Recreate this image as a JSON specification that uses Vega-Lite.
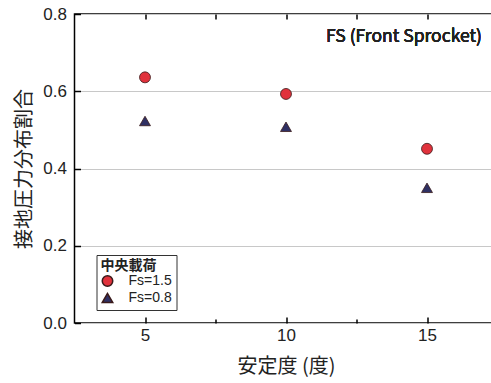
{
  "$schema": "https://vega.github.io/schema/vega-lite/v6.json",
  "width": 423,
  "height": 309,
  "autosize": "none",
  "padding": {"left": 74.5, "top": 14, "right": 0, "bottom": 60},
  "background": "white",
  "config": {
    "view": {"stroke": "black", "strokeWidth": 1.5},
    "font": "Liberation Sans",
    "axis": {
      "labelFont": "Liberation Sans",
      "labelFontSize": 17,
      "labelColor": "#222",
      "tickColor": "black",
      "domain": false,
      "titleFont": "Noto Sans CJK JP",
      "titleFontSize": 20,
      "titleFontWeight": "normal",
      "titleColor": "#222"
    }
  },
  "data": {
    "values": [
      {"angle": 5, "ratio": 0.636, "series": "Fs=1.5"},
      {"angle": 10, "ratio": 0.593, "series": "Fs=1.5"},
      {"angle": 15, "ratio": 0.451, "series": "Fs=1.5"},
      {"angle": 5, "ratio": 0.523, "series": "Fs=0.8"},
      {"angle": 10, "ratio": 0.508, "series": "Fs=0.8"},
      {"angle": 15, "ratio": 0.35, "series": "Fs=0.8"}
    ]
  },
  "layer": [
    {
      "mark": {"type": "point", "filled": true, "size": 120, "stroke": "#3a1a1a", "strokeWidth": 0.8, "opacity": 1},
      "encoding": {
        "x": {
          "field": "angle", "type": "quantitative",
          "scale": {"domain": [2.5, 17.5], "nice": false},
          "axis": {"values": [5, 10, 15], "title": "安定度 (度)", "grid": false, "tickSize": -6, "tickWidth": 1.5, "labelPadding": 10, "titlePadding": 13}
        },
        "y": {
          "field": "ratio", "type": "quantitative",
          "scale": {"domain": [0, 0.8], "nice": false},
          "axis": {"values": [0, 0.2, 0.4, 0.6, 0.8], "format": ".1f", "title": "接地圧力分布割合", "grid": true, "gridColor": "#c8c8c8", "gridWidth": 1, "tickSize": -6, "tickWidth": 1.5, "labelPadding": 14, "titlePadding": 8}
        },
        "color": {
          "field": "series", "type": "nominal",
          "scale": {"domain": ["Fs=1.5", "Fs=0.8"], "range": ["#e0323c", "#2f3063"]},
          "legend": {
            "title": "中央載荷", "orient": "none", "legendX": 22, "legendY": 241,
            "strokeColor": "#333", "padding": 4, "fillColor": "white",
            "titleFont": "Noto Sans CJK JP", "titleFontSize": 14, "titleFontWeight": "bold", "titleColor": "#222",
            "labelFont": "Liberation Sans", "labelFontSize": 14, "labelColor": "#222",
            "symbolSize": 110, "rowPadding": 0, "labelOffset": 14, "titlePadding": 1
          }
        },
        "shape": {
          "field": "series", "type": "nominal",
          "scale": {"domain": ["Fs=1.5", "Fs=0.8"], "range": ["circle", "triangle-up"]}
        }
      }
    },
    {
      "mark": {"type": "text", "align": "right", "baseline": "middle", "font": "Noto Sans CJK JP", "fontSize": 17.5, "fontWeight": 400, "color": "#222", "text": "FS (Front Sprocket)"},
      "encoding": {
        "x": {"datum": 16.95, "type": "quantitative", "axis": {"orient": "top", "values": [5, 7.5, 10, 12.5, 15], "labels": false, "title": null, "grid": false, "tickSize": -5, "tickWidth": 1.5}},
        "y": {"datum": 0.74, "type": "quantitative", "axis": {"values": [0.1, 0.3, 0.5, 0.7], "labels": false, "title": null, "grid": false, "tickSize": -4, "tickWidth": 1.5}}
      }
    },
    {
      "mark": {"type": "rule", "opacity": 0},
      "encoding": {
        "x": {"datum": 7.5, "type": "quantitative", "axis": {"orient": "bottom", "values": [7.5, 12.5], "labels": false, "title": null, "grid": false, "tickSize": -4, "tickWidth": 1.5}}
      }
    }
  ],
  "resolve": {"axis": {"x": "independent", "y": "independent"}}
}
